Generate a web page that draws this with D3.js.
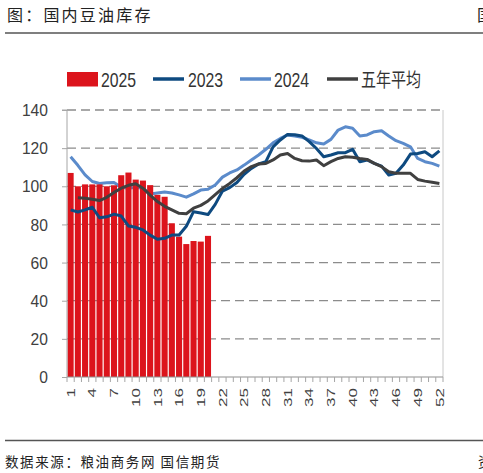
<!DOCTYPE html>
<html lang="zh">
<head>
<meta charset="UTF-8">
<title>国内豆油库存</title>
<style>
  body { margin: 0; background: #fff; }
  svg { display: block; }
</style>
</head>
<body>
<div id="container"></div>
<script src="https://cdn.jsdelivr.net/npm/d3@7"></script>
<script>
    // weekly soybean oil stocks
    const weeks = d3.range(1, 53)
    const yTicks = [0, 20, 40, 60, 80, 100, 120, 140]
    const xLabelWeeks = d3.range(1, 53, 3)

    const stock2025 = [107, 100, 101, 101, 101, 100, 100.5, 105.8, 107.2, 103.5,
        103, 100.6, 95.5, 94.5, 80.6, 73.6, 69.7, 71.3, 71, 74]

    const stock2023 = [87.6, 86.5, 87.6, 89, 83.5, 84, 85.4, 84.4, 79.2, 78.5,
        77.1, 74.4, 72.2, 72.7, 74.4, 74.5, 79, 86.7, 86, 85.2,
        90.5, 97.5, 99.3, 102, 106.3, 109.4, 111.7, 112.9, 120.7, 124.3,
        127.2, 127, 126.4, 123.4, 119.8, 115.5, 116.4, 117.6, 117.6, 119.4,
        112.9, 113.8, 112, 110.6, 105.9, 106.8, 111.1, 116.9, 117.2, 118.1,
        115.5, 118.6]

    const stock2024 = [115.5, 111, 106, 102.5, 101.5, 101.8, 102, 99.5, 99, 99.5,
        99, 96, 96.5, 97, 96.5, 95.5, 94.3, 96, 98, 98.4,
        100.7, 104.8, 107, 108.6, 111.1, 113.8, 116.4, 119.4, 122.8, 125.1,
        126.9, 126.4, 125.7, 124.3, 122.8, 122.2, 124.6, 129.5, 131.2, 130.4,
        126.4, 126.9, 128.6, 129.1, 126.4, 123.9, 122.5, 120.7, 114.6, 112.9,
        112, 110.6]

    const avg5y = [null, 94, 93.7, 93.2, 92.5, 94.2, 96.8, 99, 100.5, 101.3,
        99, 95.4, 92, 89.5, 87.6, 85.8, 85.6, 88.5, 90, 92.3,
        95.6, 98.9, 101.5, 104.5, 108, 110.3, 111.7, 112, 113.8, 116.4,
        117.2, 114.6, 113.4, 113.2, 113.8, 110.8, 112.9, 114.6, 115.5, 115.2,
        114.6, 114.1, 112, 110.3, 107.6, 106.8, 106.8, 106.8, 103.6, 102.7,
        102.1, 101.5]

    const width = 483
    const height = 473
    const plotLeft = 67
    const plotRight = 443
    const plotTop = 110
    const plotBottom = 377

    const red = '#DC141C'
    const darkBlue = '#0E4A80'
    const lightBlue = '#5B8BCB'
    const avgGray = '#404040'
    const gridColor = '#8c8c8c'
    const axisColor = '#a6a6a6'
    const latin = 'Liberation Sans, Arial, sans-serif'
    const cjk = '"Noto Sans CJK SC", sans-serif'

    const svg = d3.select('#container').append('svg')
        .attr('width', width)
        .attr('height', height)

    const x = d3.scaleBand().domain(weeks).range([plotLeft, plotRight]).padding(0)
    const y = d3.scaleLinear().domain([0, 140]).range([plotBottom, plotTop])
    const bw = x.bandwidth()
    const cx = w => x(w) + bw / 2

    /* header and footer */

    svg.append('text')
        .attr('x', 7).attr('y', 21)
        .attr('font-family', cjk).attr('font-size', 16)
        .attr('letter-spacing', 2.2)
        .attr('fill', '#222')
        .text('图：国内豆油库存')
    // sliver of the next column's heading, cut by the page edge
    svg.append('text')
        .attr('x', 477).attr('y', 21)
        .attr('font-family', cjk).attr('font-size', 16)
        .attr('fill', '#222')
        .text('国')
    svg.append('line')
        .attr('x1', 5).attr('x2', width).attr('y1', 33).attr('y2', 33)
        .attr('stroke', '#555').attr('stroke-width', 1.3)

    svg.append('line')
        .attr('x1', 5).attr('x2', width).attr('y1', 440.5).attr('y2', 440.5)
        .attr('stroke', '#555').attr('stroke-width', 1.3)
    svg.append('text')
        .attr('x', 5).attr('y', 467)
        .attr('font-family', cjk).attr('font-size', 13.5)
        .attr('letter-spacing', 1.6)
        .attr('fill', '#222')
        .text('数据来源：粮油商务网 国信期货')
    svg.append('text')
        .attr('x', 478).attr('y', 467)
        .attr('font-family', cjk).attr('font-size', 13.5)
        .attr('fill', '#222')
        .text('资')

    /* grid */

    svg.append('g')
        .selectAll('line')
        .data(yTicks.filter(t => t > 0))
        .enter()
        .append('line')
        .attr('x1', plotLeft).attr('x2', plotRight)
        .attr('y1', d => y(d)).attr('y2', d => y(d))
        .attr('stroke', gridColor)
        .attr('stroke-width', 1.3)
        .attr('stroke-dasharray', '9,5')

    // right frame
    svg.append('line')
        .attr('x1', plotRight).attr('x2', plotRight)
        .attr('y1', plotTop).attr('y2', plotBottom)
        .attr('stroke', '#c8c8c8').attr('stroke-width', 1)

    /* series */

    const lineGen = d3.line()
        .defined(d => d.v != null)
        .x(d => cx(d.w))
        .y(d => y(d.v))

    const toPts = arr => arr.map((v, i) => ({w: weeks[i], v: v}))

    // 2024 sits behind the bars in the original
    svg.append('path')
        .attr('d', lineGen(toPts(stock2024)))
        .attr('fill', 'none')
        .attr('stroke', lightBlue)
        .attr('stroke-width', 3)
        .attr('stroke-linejoin', 'round')

    svg.append('g')
        .selectAll('rect')
        .data(stock2025)
        .enter()
        .append('rect')
        .attr('x', (d, i) => x(weeks[i]) + bw * 0.08)
        .attr('width', bw * 0.84)
        .attr('y', d => y(d))
        .attr('height', d => y(0) - y(d))
        .attr('fill', red)

    const overLines = [
        {data: stock2023, color: darkBlue},
        {data: avg5y, color: avgGray}
    ]
    svg.append('g')
        .selectAll('path')
        .data(overLines)
        .enter()
        .append('path')
        .attr('d', s => lineGen(toPts(s.data)))
        .attr('fill', 'none')
        .attr('stroke', s => s.color)
        .attr('stroke-width', 3)
        .attr('stroke-linejoin', 'round')

    /* axes */

    const yAxis = svg.append('g')
        .attr('transform', `translate(${plotLeft},0)`)
        .call(d3.axisLeft(y).tickValues(yTicks).tickSize(5).tickFormat(''))
    yAxis.selectAll('path, line').attr('stroke', axisColor)
    yAxis.select('.domain').attr('d', `M-5,${y(140)}H0V${y(0)}`)

    svg.append('g')
        .selectAll('text')
        .data(yTicks)
        .enter()
        .append('text')
        .attr('transform', d => `translate(48,${y(d)}) scale(0.92,1)`)
        .attr('text-anchor', 'end')
        .attr('dy', '0.36em')
        .attr('font-family', latin)
        .attr('font-size', 17)
        .attr('fill', '#404040')
        .text(d => d)

    svg.append('line')
        .attr('x1', plotLeft).attr('x2', plotRight)
        .attr('y1', plotBottom).attr('y2', plotBottom)
        .attr('stroke', '#909090').attr('stroke-width', 1.2)

    svg.append('g')
        .selectAll('line')
        .data(d3.range(0, 53))
        .enter()
        .append('line')
        .attr('x1', i => plotLeft + i * bw).attr('x2', i => plotLeft + i * bw)
        .attr('y1', plotBottom).attr('y2', plotBottom + 5)
        .attr('stroke', axisColor)

    svg.append('g')
        .selectAll('text')
        .data(xLabelWeeks)
        .enter()
        .append('text')
        .attr('transform', w => `translate(${cx(w)},388) scale(0.68,1) rotate(-90)`)
        .attr('text-anchor', 'end')
        .attr('dy', '0.36em')
        .attr('font-family', latin)
        .attr('font-size', 17)
        .attr('fill', '#404040')
        .text(w => w)

    /* legend */

    const legend = svg.append('g')
    legend.append('rect')
        .attr('x', 67).attr('y', 72).attr('width', 31).attr('height', 14.5)
        .attr('fill', red)

    const legendLines = [
        {x: 153, color: darkBlue},
        {x: 240, color: lightBlue},
        {x: 327, color: avgGray}
    ]
    legend.selectAll('line')
        .data(legendLines)
        .enter()
        .append('line')
        .attr('x1', d => d.x).attr('x2', d => d.x + 31)
        .attr('y1', 79).attr('y2', 79)
        .attr('stroke', d => d.color)
        .attr('stroke-width', 3.5)

    const legendLabels = [
        {x: 101, text: '2025', font: latin},
        {x: 188, text: '2023', font: latin},
        {x: 274, text: '2024', font: latin},
        {x: 361, text: '五年平均', font: cjk}
    ]
    legend.selectAll('text')
        .data(legendLabels)
        .enter()
        .append('text')
        .attr('transform', d => `translate(${d.x},86.5) scale(0.79,1)`)
        .attr('font-family', d => d.font)
        .attr('font-size', d => d.font === cjk ? 19 : 20)
        .attr('fill', '#333')
        .text(d => d.text)
</script>
</body>
</html>
